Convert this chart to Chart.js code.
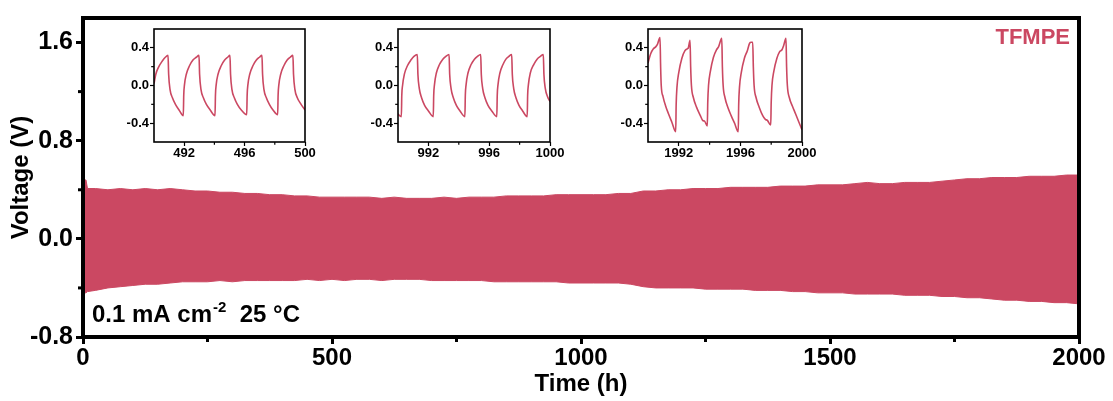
<!DOCTYPE html>
<html>
<head>
<meta charset="utf-8">
<script src="https://cdn.jsdelivr.net/npm/chart.js@4/dist/chart.umd.min.js"></script>
<style>
  html, body { margin: 0; padding: 0; background: #fff; }
  #wrap { position: relative; width: 1113px; height: 401px; overflow: hidden; }
  #wrap canvas { position: absolute; }
</style>
</head>
<body>
<div id="wrap">
  <canvas id="main" width="1113" height="401" style="left:0;top:0;width:1113px;height:401px"></canvas>
  <canvas id="inset1"></canvas>
  <canvas id="inset2"></canvas>
  <canvas id="inset3"></canvas>
</div>
<script>
// Long-term cycling: upper / lower voltage envelope of the trace
const timeH = [0, 3, 6, 9, 25, 50, 75, 100, 125, 150, 175, 200, 225, 250, 275, 300, 325, 350, 375, 400,
  425, 450, 475, 500, 525, 550, 575, 600, 625, 650, 675, 700, 725, 750, 775, 800, 825, 850, 875, 900,
  925, 950, 975, 1000, 1025, 1050, 1075, 1100, 1125, 1150, 1175, 1200, 1225, 1250, 1275, 1300, 1325,
  1350, 1375, 1400, 1425, 1450, 1475, 1500, 1525, 1550, 1575, 1600, 1625, 1650, 1675, 1700, 1725,
  1750, 1775, 1800, 1825, 1850, 1875, 1900, 1925, 1950, 1975, 2000];
const upperV = [0.46, 0.48, 0.48, 0.41, 0.41, 0.40, 0.41, 0.40, 0.41, 0.40, 0.41, 0.40, 0.39, 0.39, 0.38, 0.38, 0.37, 0.37, 0.36, 0.36,
  0.35, 0.35, 0.34, 0.34, 0.34, 0.34, 0.34, 0.33, 0.34, 0.33, 0.33, 0.33, 0.34, 0.33, 0.34, 0.34, 0.34, 0.35, 0.35, 0.35,
  0.35, 0.36, 0.36, 0.36, 0.36, 0.36, 0.37, 0.37, 0.39, 0.39, 0.40, 0.40, 0.41, 0.41, 0.41, 0.42, 0.42,
  0.42, 0.42, 0.43, 0.43, 0.43, 0.44, 0.44, 0.44, 0.45, 0.46, 0.45, 0.45, 0.46, 0.46, 0.46, 0.47,
  0.48, 0.49, 0.49, 0.50, 0.50, 0.50, 0.51, 0.51, 0.51, 0.52, 0.52];
const lowerV = [-0.45, -0.44, -0.44, -0.43, -0.42, -0.40, -0.39, -0.38, -0.37, -0.37, -0.36, -0.35, -0.35, -0.35, -0.34, -0.35, -0.34, -0.34, -0.34, -0.34,
  -0.34, -0.33, -0.34, -0.33, -0.34, -0.33, -0.33, -0.34, -0.33, -0.33, -0.33, -0.34, -0.34, -0.34, -0.34, -0.34, -0.35, -0.35, -0.35, -0.35,
  -0.35, -0.35, -0.36, -0.36, -0.36, -0.36, -0.36, -0.37, -0.39, -0.40, -0.40, -0.40, -0.40, -0.41, -0.41, -0.41, -0.41,
  -0.42, -0.42, -0.42, -0.43, -0.43, -0.44, -0.44, -0.44, -0.45, -0.45, -0.45, -0.45, -0.46, -0.46, -0.46, -0.47,
  -0.47, -0.48, -0.48, -0.49, -0.50, -0.50, -0.51, -0.51, -0.52, -0.52, -0.53];

const xTicks = [0, 500, 1000, 1500, 2000];
const xMinorTicks = [250, 750, 1250, 1750];
const yTicks = [-0.8, 0, 0.8, 1.6];
const yMinorTicks = [-0.4, 0.4, 1.2];

// Zoomed voltage profiles, hours 490-500
const inset1Time = [490.00, 490.12, 490.32, 490.55, 490.75, 490.93, 490.97, 491.06, 491.22, 491.42, 491.66, 491.94,
  491.97, 492.02, 492.14, 492.35, 492.58, 492.80, 492.98, 493.02, 493.11, 493.27, 493.47, 493.72, 494.04,
  494.07, 494.12, 494.24, 494.45, 494.68, 494.88, 495.03, 495.07, 495.16, 495.32, 495.52, 495.78, 496.14,
  496.17, 496.22, 496.34, 496.55, 496.78, 496.98, 497.15, 497.19, 497.28, 497.44, 497.64, 497.88, 498.19,
  498.22, 498.27, 498.39, 498.60, 498.82, 499.02, 499.20, 499.24, 499.33, 499.49, 499.70, 500.00];
const inset1Volt = [0.02, 0.12, 0.20, 0.26, 0.30, 0.32, 0.12, -0.04, -0.13, -0.20, -0.26, -0.32,
  -0.10, 0.01, 0.12, 0.21, 0.27, 0.30, 0.32, 0.12, -0.04, -0.13, -0.20, -0.26, -0.32,
  -0.10, 0.01, 0.12, 0.21, 0.27, 0.30, 0.32, 0.12, -0.04, -0.13, -0.20, -0.26, -0.31,
  -0.10, 0.01, 0.12, 0.21, 0.27, 0.30, 0.32, 0.12, -0.04, -0.13, -0.20, -0.26, -0.31,
  -0.10, 0.01, 0.12, 0.21, 0.27, 0.30, 0.32, 0.12, -0.04, -0.13, -0.19, -0.26];

// hours 990-1000
const inset2Time = [990.00, 990.10, 990.22, 990.25, 990.30, 990.42, 990.62, 990.85, 991.05, 991.27, 991.31, 991.40, 991.55, 991.75, 992.00, 992.32,
  992.35, 992.40, 992.52, 992.72, 992.95, 993.15, 993.36, 993.40, 993.49, 993.64, 993.84, 994.08, 994.40,
  994.43, 994.48, 994.60, 994.80, 995.03, 995.23, 995.44, 995.48, 995.57, 995.72, 995.92, 996.17, 996.50,
  996.53, 996.58, 996.70, 996.90, 997.10, 997.30, 997.48, 997.52, 997.61, 997.76, 997.96, 998.20, 998.50,
  998.53, 998.58, 998.70, 998.92, 999.15, 999.37, 999.56, 999.60, 999.69, 999.84, 1000.00];
const inset2Volt = [-0.30, -0.32, -0.33, -0.10, 0.00, 0.12, 0.21, 0.27, 0.31, 0.33, 0.12, -0.03, -0.13, -0.21, -0.27, -0.33,
  -0.10, 0.01, 0.13, 0.22, 0.28, 0.31, 0.33, 0.12, -0.03, -0.13, -0.21, -0.27, -0.33,
  -0.10, 0.01, 0.13, 0.22, 0.28, 0.31, 0.33, 0.12, -0.03, -0.13, -0.21, -0.27, -0.33,
  -0.10, 0.01, 0.13, 0.22, 0.28, 0.31, 0.33, 0.12, -0.03, -0.13, -0.21, -0.27, -0.33,
  -0.10, 0.01, 0.13, 0.22, 0.28, 0.31, 0.33, 0.12, -0.03, -0.12, -0.17];

// hours 1990-2000
const inset3Time = [1990.00, 1990.18, 1990.35, 1990.50, 1990.62, 1990.78, 1990.82, 1990.86, 1990.98, 1991.15, 1991.33, 1991.55, 1991.80,
  1991.83, 1991.88, 1992.00, 1992.20, 1992.40, 1992.55, 1992.62, 1992.73, 1992.77, 1992.82, 1992.95, 1993.15, 1993.40, 1993.55, 1993.68, 1993.85,
  1993.88, 1993.93, 1994.05, 1994.25, 1994.45, 1994.58, 1994.79, 1994.83, 1994.88, 1995.00, 1995.20, 1995.40, 1995.62, 1995.86,
  1995.89, 1995.94, 1996.06, 1996.26, 1996.45, 1996.60, 1996.70, 1996.80, 1996.84, 1996.89, 1997.02, 1997.22, 1997.45, 1997.62, 1997.75, 1997.97,
  1998.00, 1998.05, 1998.17, 1998.37, 1998.55, 1998.70, 1998.80, 1998.96, 1999.00, 1999.05, 1999.18, 1999.38, 1999.58, 1999.80, 2000.00];
const inset3Volt = [0.24, 0.34, 0.39, 0.41, 0.44, 0.51, 0.20, 0.00, -0.12, -0.22, -0.30, -0.39, -0.49,
  -0.20, -0.02, 0.14, 0.29, 0.37, 0.39, 0.40, 0.48, 0.20, 0.00, -0.13, -0.23, -0.32, -0.37, -0.38, -0.43,
  -0.18, 0.00, 0.15, 0.30, 0.38, 0.41, 0.50, 0.20, 0.00, -0.13, -0.24, -0.32, -0.40, -0.49,
  -0.20, -0.02, 0.14, 0.29, 0.37, 0.45, 0.46, 0.46, 0.20, 0.00, -0.13, -0.23, -0.32, -0.36, -0.37, -0.42,
  -0.18, 0.00, 0.15, 0.29, 0.36, 0.38, 0.42, 0.50, 0.20, 0.00, -0.13, -0.22, -0.30, -0.39, -0.47];

const insetYTicks = [-0.4, 0, 0.4];
const insetYMinor = [-0.2, 0.2];

const RED = '#cb4862';
const FONT = "'Liberation Sans', Arial, sans-serif";

// box frame on all four sides plus the short unlabelled ticks
const frame = {
  id: 'frame',
  afterDatasetsDraw(chart, args, o) {
    const { ctx, chartArea: a, scales: { x, y } } = chart;
    const off = o.width / 2;
    ctx.save();
    ctx.strokeStyle = '#000';
    ctx.lineWidth = o.minorWidth;
    o.xMinor.forEach(v => {
      const px = x.getPixelForValue(v);
      ctx.beginPath(); ctx.moveTo(px, a.bottom); ctx.lineTo(px, a.bottom + off + o.minorLen); ctx.stroke();
    });
    o.yMinor.forEach(v => {
      const py = y.getPixelForValue(v);
      ctx.beginPath(); ctx.moveTo(a.left, py); ctx.lineTo(a.left - off - o.minorLen, py); ctx.stroke();
    });
    ctx.lineWidth = o.width;
    ctx.strokeRect(a.left, a.top, a.right - a.left, a.bottom - a.top);
    ctx.restore();
  }
};

const notes = {
  id: 'notes',
  afterDraw(chart) {
    const { ctx, chartArea: a } = chart;
    ctx.save();
    ctx.textBaseline = 'alphabetic';
    ctx.fillStyle = RED;
    ctx.font = `bold 22px ${FONT}`;
    ctx.textAlign = 'right';
    ctx.fillText('TFMPE', a.right - 9, a.top + 26);

    ctx.fillStyle = '#000';
    ctx.textAlign = 'left';
    const base = a.bottom - 15;
    let x = a.left + 9;
    ctx.font = `bold 24px ${FONT}`;
    ctx.fillText('0.1 mA cm', x, base);
    x += ctx.measureText('0.1 mA cm').width + 1;
    ctx.font = `bold 15px ${FONT}`;
    ctx.fillText('-2', x, base - 10);
    x += ctx.measureText('-2').width;
    ctx.font = `bold 24px ${FONT}`;
    ctx.fillText('  25 °C', x, base);
    ctx.restore();
  }
};

const fixedTicks = list => scale => { scale.ticks = list.map(v => ({ value: v })); };

new Chart(document.getElementById('main'), {
  type: 'line',
  data: {
    datasets: [
      {
        data: timeH.map((t, i) => ({ x: t, y: lowerV[i] })),
        borderColor: RED, borderWidth: 1, pointRadius: 0, fill: false
      },
      {
        data: timeH.map((t, i) => ({ x: t, y: upperV[i] })),
        borderColor: RED, borderWidth: 1, pointRadius: 0,
        backgroundColor: RED, fill: '-1'
      }
    ]
  },
  options: {
    responsive: false,
    animation: false,
    layout: { padding: { top: 16, right: 34, left: 0, bottom: 0 } },
    plugins: {
      legend: { display: false },
      tooltip: { enabled: false },
      frame: { width: 4, minorWidth: 3, minorLen: 3, xMinor: xMinorTicks, yMinor: yMinorTicks }
    },
    scales: {
      x: {
        type: 'linear', min: 0, max: 2000,
        afterBuildTicks: fixedTicks(xTicks),
        afterFit: s => { s.height = 64; },
        border: { display: false },
        grid: { drawOnChartArea: false, tickLength: 7, tickWidth: 3, tickColor: '#000' },
        ticks: {
          color: '#000', padding: 0, maxRotation: 0, autoSkip: false,
          font: { family: FONT, size: 24, weight: 'bold' },
          callback: v => String(v)
        },
        title: {
          display: true, text: 'Time (h)', color: '#000',
          font: { family: FONT, size: 24, weight: 'bold' },
          padding: { top: 0, bottom: 2 }
        }
      },
      y: {
        min: -0.8, max: 1.8,
        afterBuildTicks: fixedTicks(yTicks),
        afterFit: s => { s.width = 83; },
        border: { display: false },
        grid: { drawOnChartArea: false, tickLength: 7, tickWidth: 3, tickColor: '#000' },
        ticks: {
          color: '#000', padding: 3, autoSkip: false,
          font: { family: FONT, size: 25, weight: 'bold' },
          callback: v => v.toFixed(1)
        },
        title: {
          display: true, text: 'Voltage (V)', color: '#000',
          font: { family: FONT, size: 24, weight: 'bold' },
          padding: { top: 7, bottom: 0 }
        }
      }
    }
  },
  plugins: [frame, notes]
});

// small box charts of single cycles
function drawInset(id, box, times, volts, xMin, xMax, xMajor, xMinor) {
  const cv = document.getElementById(id);
  const padL = 46, padT = 10, padR = 16, padB = 26;
  const w = box.r - box.l + padL + padR;
  const h = box.b - box.t + padT + padB;
  cv.width = w; cv.height = h;
  cv.style.left = (box.l - padL) + 'px';
  cv.style.top = (box.t - padT) + 'px';
  cv.style.width = w + 'px';
  cv.style.height = h + 'px';

  const tickFont = { family: FONT, size: 13, weight: 'bold' };
  new Chart(cv, {
    type: 'line',
    data: {
      datasets: [{
        data: times.map((t, i) => ({ x: t, y: volts[i] })),
        borderColor: RED, borderWidth: 1.6, pointRadius: 0,
        cubicInterpolationMode: 'monotone', fill: false
      }]
    },
    options: {
      responsive: false,
      animation: false,
      layout: { padding: { top: padT, right: padR, left: 0, bottom: 0 } },
      plugins: {
        legend: { display: false },
        tooltip: { enabled: false },
        frame: { width: 1.6, minorWidth: 1.2, minorLen: 2, xMinor: xMinor, yMinor: insetYMinor }
      },
      scales: {
        x: {
          type: 'linear', min: xMin, max: xMax,
          afterBuildTicks: fixedTicks(xMajor),
          afterFit: s => { s.height = padB; },
          border: { display: false },
          grid: { drawOnChartArea: false, tickLength: 4, tickWidth: 1.2, tickColor: '#000' },
          ticks: { color: '#000', padding: 0, maxRotation: 0, autoSkip: false, font: tickFont, callback: v => String(v) }
        },
        y: {
          min: -0.6, max: 0.6,
          afterBuildTicks: fixedTicks(insetYTicks),
          afterFit: s => { s.width = padL; },
          border: { display: false },
          grid: { drawOnChartArea: false, tickLength: 4, tickWidth: 1.2, tickColor: '#000' },
          ticks: { color: '#000', padding: 1, autoSkip: false, font: tickFont, callback: v => v.toFixed(1) }
        }
      }
    },
    plugins: [frame]
  });
}

drawInset('inset1', { l: 154, t: 29, r: 305, b: 142 }, inset1Time, inset1Volt, 490, 500, [492, 496, 500], [494, 498]);
drawInset('inset2', { l: 398, t: 29, r: 550, b: 142 }, inset2Time, inset2Volt, 990, 1000, [992, 996, 1000], [994, 998]);
drawInset('inset3', { l: 648, t: 29, r: 802, b: 142 }, inset3Time, inset3Volt, 1990, 2000, [1992, 1996, 2000], [1994, 1998]);
</script>
</body>
</html>
